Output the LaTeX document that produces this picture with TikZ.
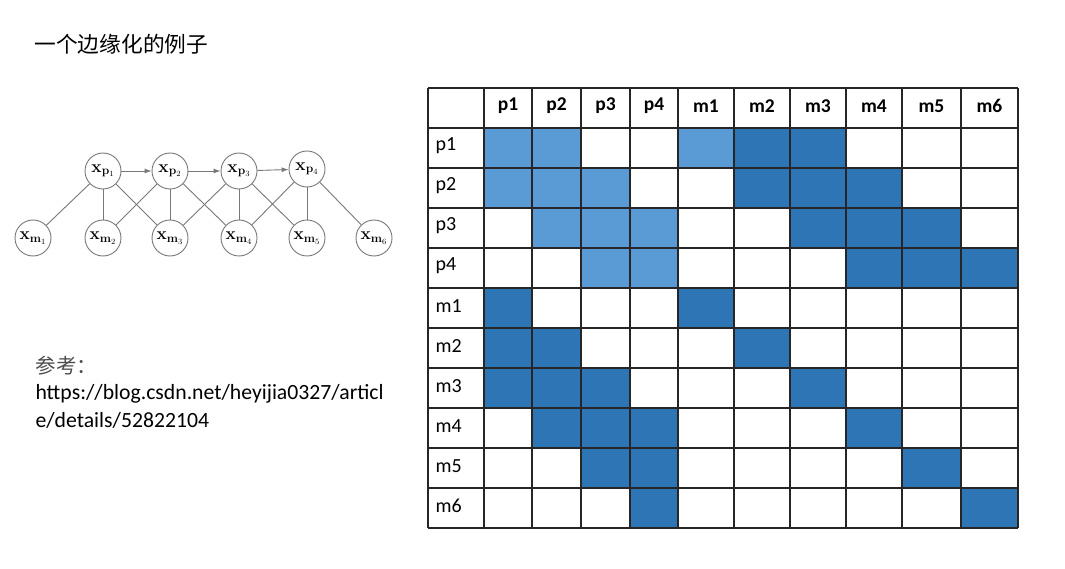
\documentclass[tikz,border=0pt]{standalone}
\usepackage[no-math]{fontspec}
\setmainfont{Carlito}
\newfontfamily\cjk{Noto Sans CJK SC}
\usetikzlibrary{arrows.meta}
\definecolor{lightb}{RGB}{91,155,213}
\definecolor{darkb}{RGB}{46,117,182}
\definecolor{edgegray}{RGB}{120,120,120}
\newcommand\cellfill[3]{%
  \pgfmathsetmacro\xa{{428,484,532,581,630,678,734,790,846,902,961,1018}[#1]}%
  \pgfmathsetmacro\xb{{428,484,532,581,630,678,734,790,846,902,961,1018}[#1+1]}%
  \fill[#3] (\xa,{88+40*#2}) rectangle (\xb,{128+40*#2});}
\begin{document}
\begin{tikzpicture}[x=1pt,y=-1pt,
  gnode/.style={circle,draw=edgegray,line width=0.9pt,minimum size=36pt,inner sep=0pt,fill=white,font=\fontsize{17}{19}\selectfont},
  gedge/.style={draw=edgegray,line width=0.9pt},
  garrow/.style={gedge,-{Latex[length=7pt,width=5pt]}},
  hdr/.style={font=\fontsize{19.5}{22}\selectfont\bfseries,anchor=center},
  rowlab/.style={font=\fontsize{20}{22}\selectfont,anchor=west},
  gridline/.style={draw=black!85,line width=1.2pt}]
\useasboundingbox (0,0) rectangle (1065,569);
\fill[white] (0,0) rectangle (1065,569);

% title
\node[anchor=west,font=\cjk\fontsize{21.7}{24}\selectfont] (title) at (31,44) {一个边缘化的例子};

% reference text
\node[anchor=west,font=\cjk\fontsize{20.5}{23}\selectfont,text=black!70] (ref) at (32,366) {参考：};
\node[anchor=west,font=\fontsize{21.7}{24}\selectfont] (url1) at (32,394) {https://blog.csdn.net/heyijia0327/articl};
\node[anchor=west,font=\fontsize{21.7}{24}\selectfont] (url2) at (32,420) {e/details/52822104};

% graph
\foreach \i/\x/\y in {1/103/171,2/170/171,3/239/171,4/307/169}
  \node[gnode] (p\i) at (\x,\y) {$\mathbf{x}_{\mathbf{p}_{\i}}$};
\foreach \i/\x in {1/33,2/103,3/170,4/239,5/307,6/374}
  \node[gnode] (m\i) at (\x,238) {$\mathbf{x}_{\mathbf{m}_{\i}}$};
\foreach \a/\b in {1/2,2/3,3/4}
  \draw[garrow] (p\a) -- (p\b);
\foreach \a/\b in {1/1,1/2,1/3,2/2,2/3,2/4,3/3,3/4,3/5,4/4,4/5,4/6}
  \draw[gedge] (p\a) -- (m\b);

% table fills
\foreach \c/\r in {1/1,2/1,5/1,1/2,2/2,3/2,2/3,3/3,4/3,3/4,4/4}
  {\cellfill{\c}{\r}{lightb}}
\foreach \c/\r in {6/1,7/1,6/2,7/2,8/2,7/3,8/3,9/3,8/4,9/4,10/4,1/5,5/5,1/6,2/6,6/6,1/7,2/7,3/7,7/7,2/8,3/8,4/8,8/8,3/9,4/9,9/9,4/10,10/10}
  {\cellfill{\c}{\r}{darkb}}

% grid
\foreach \x in {428,484,532,581,630,678,734,790,846,902,961,1018}
  \draw[gridline] (\x,88) -- (\x,528);
\foreach \k in {0,...,11}
  \draw[gridline] (428,{88+40*\k}) -- (1018,{88+40*\k});

% header labels
\foreach \t/\xa/\xb in {p1/484/532,p2/532/581,p3/581/630,p4/630/678,m1/678/734,m2/734/790,m3/790/846,m4/846/902,m5/902/961,m6/961/1018}
  \node[hdr] (h\t) at ({(\xa+\xb)/2},106) {\t};
% row labels
\foreach \t [count=\k] in {p1,p2,p3,p4,m1,m2,m3,m4,m5,m6}
  \node[rowlab] (r\t) at (432,{106+40*\k}) {\t};
\end{tikzpicture}
\end{document}
